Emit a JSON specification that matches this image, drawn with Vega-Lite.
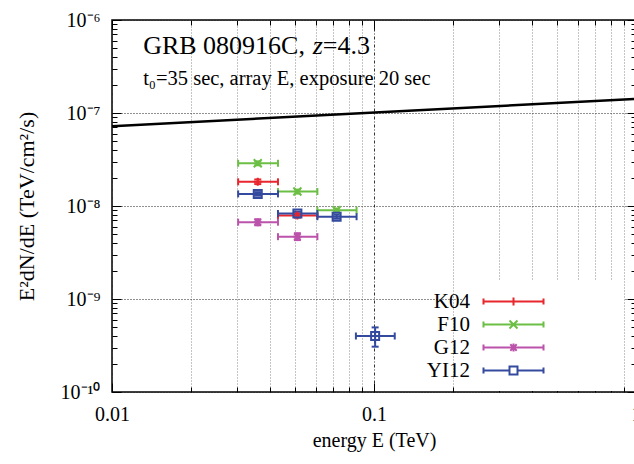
{
  "$schema": "https://vega.github.io/schema/vega-lite/v6.json",
  "width": 524,
  "height": 372,
  "autosize": {"type": "none"},
  "padding": {"left": 112, "top": 20, "right": 0, "bottom": 72},
  "background": "white",
  "config": {
    "view": {"stroke": "black", "strokeWidth": 1.5},
    "font": "Liberation Serif",
    "axis": {
      "labelFont": "Liberation Serif", "labelFontSize": 20, "labelColor": "black",
      "titleFont": "Liberation Serif", "titleFontSize": 20, "titleColor": "black", "titleFontWeight": "normal",
      "domain": false, "tickColor": "black", "tickWidth": 1, "labelOverlap": false, "labelFlush": false
    },
    "legend": {"labelFont": "Liberation Serif", "labelFontSize": 21, "labelColor": "black"}
  },
  "datasets": {
    "pts": [
      {"series": "K04", "e": 0.036, "elo": 0.0303, "ehi": 0.043, "f": 1.82e-8, "flo": 1.72e-8, "fhi": 1.93e-8},
      {"series": "K04", "e": 0.051, "elo": 0.043, "ehi": 0.0608, "f": 7.9e-9, "flo": 7.5e-9, "fhi": 8.3e-9},
      {"series": "F10", "e": 0.036, "elo": 0.0303, "ehi": 0.043, "f": 2.88e-8, "flo": 2.74e-8, "fhi": 3.02e-8},
      {"series": "F10", "e": 0.051, "elo": 0.043, "ehi": 0.0608, "f": 1.43e-8, "flo": 1.36e-8, "fhi": 1.5e-8},
      {"series": "F10", "e": 0.072, "elo": 0.0608, "ehi": 0.0858, "f": 9.0e-9, "flo": 8.6e-9, "fhi": 9.4e-9},
      {"series": "G12", "e": 0.036, "elo": 0.0303, "ehi": 0.043, "f": 6.7e-9, "flo": 6.2e-9, "fhi": 7.2e-9},
      {"series": "G12", "e": 0.051, "elo": 0.043, "ehi": 0.0608, "f": 4.68e-9, "flo": 4.3e-9, "fhi": 5.1e-9},
      {"series": "YI12", "e": 0.036, "elo": 0.0303, "ehi": 0.043, "f": 1.35e-8, "flo": 1.29e-8, "fhi": 1.41e-8},
      {"series": "YI12", "e": 0.051, "elo": 0.043, "ehi": 0.0608, "f": 8.3e-9, "flo": 7.9e-9, "fhi": 8.7e-9},
      {"series": "YI12", "e": 0.072, "elo": 0.0608, "ehi": 0.0858, "f": 7.67e-9, "flo": 7.3e-9, "fhi": 8.05e-9},
      {"series": "YI12", "e": 0.101, "elo": 0.0853, "ehi": 0.12, "f": 4.0e-10, "flo": 3.07e-10, "fhi": 4.95e-10}
    ],
    "sens": [
      {"e": 0.01, "f": 7.2e-8},
      {"e": 1.0, "f": 1.42e-7}
    ],
    "title1": [{"text": "GRB 080916C, ", "e": 0.01315, "f": 4.3e-7}],
    "title2": [{"text": "z", "e": 0.0584, "f": 4.3e-7}],
    "title3": [{"text": "=4.3", "e": 0.0638, "f": 4.3e-7}],
    "sub": [{"text": "t₀=35 sec, array E, exposure 20 sec", "e": 0.01315, "f": 2.0e-7}]
  },
  "resolve": {"axis": {"x": "independent", "y": "independent"}},
  "layer": [
    {
      "data": {"name": "sens"},
      "mark": {"type": "line", "color": "black", "strokeWidth": 2.5, "clip": true},
      "encoding": {
        "x": {"field": "e", "type": "quantitative",
          "scale": {"type": "log", "domain": [0.01, 1], "nice": false},
          "axis": {"orient": "bottom", "values": [0.01, 0.1, 1], "ticks": false, "grid": false,
            "labelExpr": "datum.value < 0.05 ? '0.01' : datum.value < 0.5 ? '0.1' : '1'",
            "labelPadding": 12, "title": "energy E (TeV)", "titlePadding": 6}},
        "y": {"field": "f", "type": "quantitative",
          "scale": {"type": "log", "domain": [1e-10, 1e-6], "nice": false},
          "axis": {"orient": "left", "values": [1e-10, 1e-9, 1e-8, 1e-7, 1e-6], "ticks": false,
            "grid": true, "gridColor": "#222222", "gridDash": [1, 2], "gridWidth": 1,
            "labelExpr": "'10' + (round(log(datum.value)/LN10) == -10 ? '⁻¹⁰' : round(log(datum.value)/LN10) == -9 ? '⁻⁹' : round(log(datum.value)/LN10) == -8 ? '⁻⁸' : round(log(datum.value)/LN10) == -7 ? '⁻⁷' : '⁻⁶')",
            "labelPadding": 12, "title": "E²dN/dE (TeV/cm²/s)", "titleFontSize": 22, "titlePadding": 22}}
      }
    },
    {
      "data": {"name": "pts"},
      "mark": {"type": "rule", "strokeWidth": 2},
      "encoding": {
        "x": {"field": "elo", "type": "quantitative",
          "axis": {"orient": "bottom", "values": [0.01, 0.1, 1], "labels": false, "ticks": true, "tickSize": -9,
            "grid": true, "gridColor": "#333333", "gridDash": [3, 2, 1, 2], "title": null}},
        "x2": {"field": "ehi"},
        "y": {"field": "f", "type": "quantitative",
          "axis": {"orient": "left", "values": [1e-10, 1e-9, 1e-8, 1e-7, 1e-6], "labels": false, "ticks": true, "tickSize": -9, "grid": false, "title": null}},
        "color": {"field": "series", "type": "nominal",
          "scale": {"domain": ["K04", "F10", "G12", "YI12"], "range": ["#e8262d", "#6cbf45", "#bb53ab", "#344a9f"]}}
      }
    },
    {
      "data": {"name": "pts"},
      "mark": {"type": "rule", "strokeWidth": 2},
      "encoding": {
        "x": {"field": "e", "type": "quantitative",
          "axis": {"orient": "bottom", "values": [0.02, 0.03, 0.04, 0.05, 0.06, 0.07, 0.08, 0.09, 0.2, 0.3, 0.4, 0.5, 0.6, 0.7, 0.8, 0.9],
            "labels": false, "ticks": true, "tickSize": -5, "grid": true, "gridColor": "#8a8a8a", "gridDash": [1, 2], "title": null}},
        "y": {"field": "flo", "type": "quantitative",
          "axis": {"orient": "left", "values": [2e-10, 3e-10, 4e-10, 5e-10, 6e-10, 7e-10, 8e-10, 9e-10, 2e-9, 3e-9, 4e-9, 5e-9, 6e-9, 7e-9, 8e-9, 9e-9, 2e-8, 3e-8, 4e-8, 5e-8, 6e-8, 7e-8, 8e-8, 9e-8, 2e-7, 3e-7, 4e-7, 5e-7, 6e-7, 7e-7, 8e-7, 9e-7],
            "labels": false, "ticks": true, "tickSize": -5, "grid": false, "title": null}},
        "y2": {"field": "fhi"},
        "color": {"field": "series", "type": "nominal"}
      }
    },
    {
      "data": {"name": "pts"},
      "transform": [{"fold": ["elo", "ehi"], "as": ["end", "ecap"]}],
      "mark": {"type": "point", "shape": "M0,-1V1", "size": 49, "strokeWidth": 2, "filled": false, "opacity": 1},
      "encoding": {
        "x": {"field": "ecap", "type": "quantitative",
          "axis": {"orient": "top", "values": [0.01, 0.1, 1], "labels": false, "ticks": true, "tickSize": -9, "grid": false, "title": null}},
        "y": {"field": "f", "type": "quantitative",
          "axis": {"orient": "right", "values": [1e-10, 1e-9, 1e-8, 1e-7, 1e-6], "labels": false, "ticks": true, "tickSize": -9, "grid": false, "title": null}},
        "color": {"field": "series", "type": "nominal"}
      }
    },
    {
      "data": {"name": "pts"},
      "transform": [{"fold": ["flo", "fhi"], "as": ["end", "fcap"]}],
      "mark": {"type": "point", "shape": "M-1,0H1", "size": 49, "strokeWidth": 2, "filled": false, "opacity": 1},
      "encoding": {
        "x": {"field": "e", "type": "quantitative",
          "axis": {"orient": "top", "values": [0.02, 0.03, 0.04, 0.05, 0.06, 0.07, 0.08, 0.09, 0.2, 0.3, 0.4, 0.5, 0.6, 0.7, 0.8, 0.9],
            "labels": false, "ticks": true, "tickSize": -5, "grid": false, "title": null}},
        "y": {"field": "fcap", "type": "quantitative",
          "axis": {"orient": "right", "values": [2e-10, 3e-10, 4e-10, 5e-10, 6e-10, 7e-10, 8e-10, 9e-10, 2e-9, 3e-9, 4e-9, 5e-9, 6e-9, 7e-9, 8e-9, 9e-9, 2e-8, 3e-8, 4e-8, 5e-8, 6e-8, 7e-8, 8e-8, 9e-8, 2e-7, 3e-7, 4e-7, 5e-7, 6e-7, 7e-7, 8e-7, 9e-7],
            "labels": false, "ticks": true, "tickSize": -5, "grid": false, "title": null}},
        "color": {"field": "series", "type": "nominal"}
      }
    },
    {
      "data": {"name": "pts"},
      "mark": {"type": "point", "size": 0, "strokeWidth": 2, "filled": false},
      "encoding": {
        "x": {"field": "e", "type": "quantitative", "axis": null},
        "y": {"field": "f", "type": "quantitative", "axis": null},
        "color": {"field": "series", "type": "nominal",
          "legend": {"orient": "none", "legendX": 351, "legendY": 261, "title": null,
            "fillColor": "white", "padding": 10, "labelAlign": "right", "labelOffset": -24,
            "symbolSize": 64, "symbolStrokeWidth": 2, "rowPadding": 1}},
        "shape": {"field": "series", "type": "nominal",
          "scale": {"domain": ["K04", "F10", "G12", "YI12"],
            "range": ["M0,0H15M0,-0.75V0.75M15,-0.75V0.75M7.5,-1V1M31.5,0", "M0,0H15M0,-0.75V0.75M15,-0.75V0.75M6.5,-1L8.5,1M6.5,1L8.5,-1M31.5,0", "M0,0H15M0,-0.75V0.75M15,-0.75V0.75M7.5,-1V1M6.5,0H8.5M6.7,-0.8L8.3,0.8M6.7,0.8L8.3,-0.8M31.5,0", "M0,0H6.5M8.5,0H15M0,-0.75V0.75M15,-0.75V0.75M6.5,-1H8.5V1H6.5ZM31.5,0"]},
          "legend": {"orient": "none", "legendX": 351, "legendY": 261, "title": null,
            "fillColor": "white", "padding": 10, "labelAlign": "right", "labelOffset": -24,
            "symbolSize": 64, "symbolStrokeWidth": 2, "rowPadding": 1}}
      }
    },
    {
      "data": {"name": "pts"},
      "transform": [{"filter": "datum.series == 'K04'"}],
      "mark": {"type": "point", "shape": "M0,-1V1M-1,0H1", "size": 64, "strokeWidth": 2, "filled": false, "opacity": 1},
      "encoding": {
        "x": {"field": "e", "type": "quantitative", "axis": null},
        "y": {"field": "f", "type": "quantitative", "axis": null},
        "color": {"field": "series", "type": "nominal"}
      }
    },
    {
      "data": {"name": "pts"},
      "transform": [{"filter": "datum.series == 'F10'"}],
      "mark": {"type": "point", "shape": "M-1,-1L1,1M-1,1L1,-1", "size": 64, "strokeWidth": 2, "filled": false, "opacity": 1},
      "encoding": {
        "x": {"field": "e", "type": "quantitative", "axis": null},
        "y": {"field": "f", "type": "quantitative", "axis": null},
        "color": {"field": "series", "type": "nominal"}
      }
    },
    {
      "data": {"name": "pts"},
      "transform": [{"filter": "datum.series == 'G12'"}],
      "mark": {"type": "point", "shape": "M0,-1V1M-1,0H1M-0.8,-0.8L0.8,0.8M-0.8,0.8L0.8,-0.8", "size": 64, "strokeWidth": 2, "filled": false, "opacity": 1},
      "encoding": {
        "x": {"field": "e", "type": "quantitative", "axis": null},
        "y": {"field": "f", "type": "quantitative", "axis": null},
        "color": {"field": "series", "type": "nominal"}
      }
    },
    {
      "data": {"name": "pts"},
      "transform": [{"filter": "datum.series == 'YI12'"}],
      "mark": {"type": "point", "shape": "M-1,-1H1V1H-1Z", "size": 64, "strokeWidth": 2, "filled": false, "opacity": 1},
      "encoding": {
        "x": {"field": "e", "type": "quantitative", "axis": null},
        "y": {"field": "f", "type": "quantitative", "axis": null},
        "color": {"field": "series", "type": "nominal"}
      }
    },
    {
      "data": {"name": "title1"},
      "mark": {"type": "text", "align": "left", "baseline": "alphabetic", "fontSize": 26, "font": "Liberation Serif", "color": "black"},
      "encoding": {
        "x": {"field": "e", "type": "quantitative", "axis": null},
        "y": {"field": "f", "type": "quantitative", "axis": null},
        "text": {"field": "text"}
      }
    },
    {
      "data": {"name": "title2"},
      "mark": {"type": "text", "align": "left", "baseline": "alphabetic", "fontSize": 26, "fontStyle": "italic", "font": "Liberation Serif", "color": "black"},
      "encoding": {
        "x": {"field": "e", "type": "quantitative", "axis": null},
        "y": {"field": "f", "type": "quantitative", "axis": null},
        "text": {"field": "text"}
      }
    },
    {
      "data": {"name": "title3"},
      "mark": {"type": "text", "align": "left", "baseline": "alphabetic", "fontSize": 26, "font": "Liberation Serif", "color": "black"},
      "encoding": {
        "x": {"field": "e", "type": "quantitative", "axis": null},
        "y": {"field": "f", "type": "quantitative", "axis": null},
        "text": {"field": "text"}
      }
    },
    {
      "data": {"name": "sub"},
      "mark": {"type": "text", "align": "left", "baseline": "alphabetic", "fontSize": 20.5, "font": "Liberation Serif", "color": "black"},
      "encoding": {
        "x": {"field": "e", "type": "quantitative", "axis": null},
        "y": {"field": "f", "type": "quantitative", "axis": null},
        "text": {"field": "text"}
      }
    }
  ]
}
